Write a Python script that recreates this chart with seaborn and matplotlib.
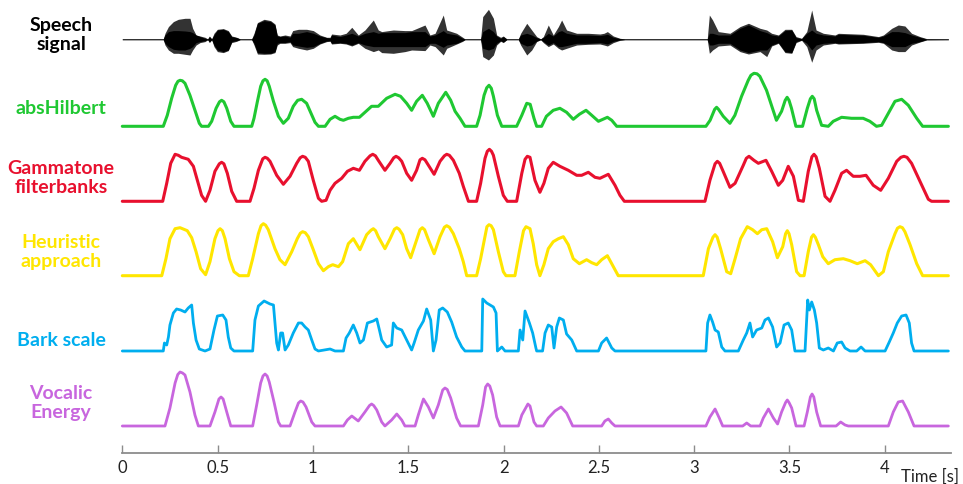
import matplotlib
matplotlib.use("Agg")
import matplotlib.pyplot as plt
import seaborn as sns
import pandas as pd

# ---------------- data (time in s, amplitude in arbitrary units) ----------------
SPEECH = [  # (t, outer_top, core_top, core_bottom, outer_bottom)
    (0.000, 0.4, 0.4, -0.4, -0.4), (0.215, 0.4, 0.4, -0.4, -0.4), (0.224, 6, 4.3, -4, -5.7),
    (0.242, 12.7, 7.7, -7.3, -10.7), (0.268, 17.7, 8.7, -10, -14), (0.294, 20, 8.7, -10.7, -14),
    (0.329, 21, 8.3, -10.7, -15), (0.355, 21, 7.7, -9, -15.7), (0.369, 11, 6.7, -7.3, -10.7),
    (0.387, 4.3, 4.3, -3.3, -5.7), (0.408, 3.3, 2.7, -2.3, -3.3), (0.434, 2, 1, -1.3, -2.3),
    (0.448, 0.4, 0.4, -0.4, -0.4), (0.457, 3.3, 2.7, -2.7, -3.3), (0.469, 0.4, 0.4, -0.4, -0.4),
    (0.481, 6, 4.3, -5.7, -7.3), (0.499, 10, 9.3, -10.7, -12.3), (0.530, 10.7, 10, -12.3, -13.3),
    (0.556, 8.7, 7.7, -10.7, -11.3), (0.574, 3.3, 2.7, -2.3, -3.3), (0.600, 2, 1.7, -1.3, -2),
    (0.618, 0.4, 0.4, -0.4, -0.4), (0.679, 0.4, 0.4, -0.4, -0.4), (0.691, 6, 4.3, -4, -5.7),
    (0.709, 16.7, 16, -13.3, -14.7), (0.744, 20, 18.7, -14, -15), (0.778, 18.7, 17.7, -14, -14.7),
    (0.801, 15.3, 14.3, -12.3, -13.3), (0.813, 4.3, 3.3, -4, -5.7), (0.827, 3.3, 2.7, -3.3, -4),
    (0.854, 4.3, 3.3, -3.3, -4), (0.880, 3.3, 2, -2.3, -3.3), (0.894, 8.7, 6, -5.7, -7.3),
    (0.924, 10, 6, -6.7, -9), (0.967, 10, 7.7, -8, -10.7), (1.002, 8.7, 6, -7.3, -9),
    (1.037, 4.3, 3.3, -4, -4.7), (1.072, 2, 1.7, -1.7, -2.3), (1.090, 2, 1.3, -1.3, -2),
    (1.098, 5.3, 4.3, -4, -4.7), (1.142, 4.3, 2.7, -3.3, -4), (1.174, 6, 4.3, -4, -4.7),
    (1.204, 12, 6, -5.7, -6.7), (1.238, 4.3, 3.3, -3.3, -4), (1.273, 9.3, 6, -5.7, -9),
    (1.317, 19.3, 7.7, -7.3, -12.3), (1.343, 9.3, 6, -7.3, -10.7), (1.361, 7.7, 6.7, -7.3, -13.3),
    (1.422, 9.3, 6.7, -7.3, -14), (1.483, 8.7, 6.7, -7.3, -12.3), (1.518, 8.7, 7.7, -7.3, -10.7),
    (1.588, 14.3, 7.7, -7.3, -11.3), (1.614, 4.3, 3.3, -4, -5.7), (1.641, 6, 4.3, -4, -7.3),
    (1.684, 24.3, 8.7, -8, -15.7), (1.702, 9.3, 6, -5.7, -9), (1.754, 6, 4.3, -4, -4.7),
    (1.786, 2, 1, -1.3, -2), (1.798, 0.4, 0.4, -0.4, -0.4), (1.880, 0.4, 0.4, -0.4, -0.4),
    (1.891, 22.7, 7.7, -9, -17.3), (1.921, 30, 11, -10.7, -20.7), (1.947, 21, 7.7, -9, -15.7),
    (1.964, 4.3, 3.3, -4, -5.7), (1.985, 2, 1, -1.3, -2), (1.999, 3.3, 2.7, -2.7, -3.3),
    (2.017, 0.4, 0.4, -0.4, -0.4), (2.078, 0.4, 0.4, -0.4, -0.4), (2.090, 6, 4.3, -4, -5.7),
    (2.122, 16, 6, -6.7, -15.7), (2.148, 9.3, 4.3, -5.7, -10.7), (2.174, 2.7, 1.7, -1.7, -2.3),
    (2.195, 0.4, 0.4, -0.4, -0.4), (2.209, 2.7, 2, -2.3, -3.3), (2.235, 14.3, 6, -5.7, -7.3),
    (2.261, 4.3, 3.3, -3.3, -4.7), (2.288, 12.7, 7.7, -7.3, -9), (2.305, 19.3, 8.7, -7.3, -10.7),
    (2.331, 9.3, 6, -6.3, -9), (2.384, 6, 4.3, -4, -5.7), (2.445, 6, 4.3, -4, -5),
    (2.506, 5.3, 3.7, -3.3, -4.7), (2.527, 6, 4.3, -4, -5.7), (2.545, 7.7, 5, -4.7, -6.7),
    (2.576, 3.3, 2, -2, -3.3), (2.611, 1, 0.7, -0.7, -1), (2.637, 0.4, 0.4, -0.4, -0.4),
    (3.069, 0.4, 0.4, -0.4, -0.4), (3.080, 24.3, 6, -5.7, -14), (3.097, 19.3, 6, -5.7, -10.7),
    (3.127, 7.7, 4.3, -4, -6.7), (3.188, 6, 4.3, -4, -5.7), (3.241, 12.7, 11, -10.7, -12.3),
    (3.285, 16, 14.3, -13.3, -14.7), (3.346, 11, 8.7, -10.7, -12.3), (3.381, 9.3, 6.7, -10.7, -17.3),
    (3.407, 6, 4.3, -5.7, -6.7), (3.442, 4.3, 3.3, -3.3, -4), (3.477, 10, 8.7, -12.3, -13.3),
    (3.512, 10, 9.3, -13.3, -14), (3.535, 2.7, 1.7, -2.3, -3.3), (3.564, 1, 0.7, -0.7, -1),
    (3.591, 7.7, 6, -4, -7.3), (3.617, 29.3, 9.3, -10.7, -23), (3.640, 9.3, 6, -5.7, -10.7),
    (3.678, 6, 4.3, -4, -5.7), (3.739, 4.3, 3.3, -3.3, -4), (3.757, 6, 5, -4, -4.7),
    (3.888, 5, 4, -3.3, -4), (3.967, 2.7, 2, -2.3, -3), (3.993, 4.3, 3.3, -3.3, -4),
    (4.037, 11, 7.7, -7.3, -10.7), (4.071, 14.3, 7.7, -7.3, -12.3), (4.106, 13.3, 6.7, -7.3, -12.3),
    (4.141, 6, 4.3, -4, -5.7), (4.185, 2.7, 2, -2.3, -2.7), (4.220, 0.7, 0.3, -0.3, -0.7),
    (4.334, 0.4, 0.4, -0.4, -0.4),
]

ABS_HILBERT = [
    (0.000, 0), (0.215, 0), (0.236, 11), (0.259, 28), (0.280, 41), (0.292, 45), (0.303, 46), (0.315, 45.5),
    (0.329, 43), (0.355, 31),
    (0.381, 16), (0.404, 3), (0.416, 0), (0.452, 0), (0.469, 5), (0.492, 18), (0.510, 24.5), (0.521, 26),
    (0.533, 24.5), (0.548, 18),
    (0.569, 5), (0.586, 0), (0.679, 0), (0.691, 8), (0.709, 25), (0.726, 40), (0.738, 45.5), (0.749, 47),
    (0.760, 45.5), (0.771, 40),
    (0.793, 25), (0.819, 10), (0.845, 3), (0.871, 8), (0.897, 20), (0.920, 26), (0.941, 27), (0.967, 23),
    (0.990, 13), (1.011, 4), (1.029, 0), (1.064, 0), (1.090, 7), (1.116, 10), (1.142, 7), (1.160, 6),
    (1.186, 8), (1.212, 9), (1.244, 9), (1.273, 14), (1.308, 20), (1.343, 20), (1.387, 28), (1.431, 32),
    (1.460, 30), (1.492, 23), (1.518, 16), (1.544, 25), (1.574, 31), (1.600, 23), (1.632, 10), (1.658, 23),
    (1.697, 34), (1.723, 26), (1.746, 15), (1.772, 8), (1.798, 0), (1.859, 0), (1.877, 11), (1.898, 31),
    (1.912, 38.5), (1.924, 41), (1.936, 38), (1.947, 30), (1.968, 11), (1.991, 0), (2.069, 0), (2.096, 11),
    (2.122, 23), (2.140, 22),
    (2.160, 8), (2.174, 0), (2.200, 0), (2.225, 10), (2.261, 16), (2.296, 18), (2.331, 14), (2.366, 7),
    (2.398, 12), (2.433, 16), (2.463, 11), (2.498, 5), (2.545, 9), (2.568, 6), (2.594, 0), (3.062, 0),
    (3.084, 6), (3.108, 17), (3.118, 19), (3.128, 17), (3.153, 10), (3.188, 3), (3.214, 11), (3.249, 30),
    (3.284, 46), (3.298, 51), (3.314, 53), (3.330, 52.5),
    (3.345, 50), (3.380, 36), (3.406, 21), (3.432, 6), (3.459, 15), (3.478, 26), (3.488, 29), (3.498, 26),
    (3.511, 18), (3.534, 0),
    (3.569, 0), (3.594, 18), (3.610, 27.5), (3.620, 30), (3.630, 27.5), (3.643, 16), (3.669, 1), (3.704, 0),
    (3.730, 5), (3.774, 9),
    (3.826, 8), (3.887, 8), (3.922, 5), (3.957, 0), (3.984, 1), (4.019, 13), (4.054, 25), (4.089, 27),
    (4.124, 21), (4.168, 8), (4.199, 0), (4.334, 0),
]

GAMMATONE = [
    (0.000, 0), (0.212, 0), (0.233, 18), (0.254, 38), (0.277, 47), (0.294, 46), (0.311, 44), (0.346, 42),
    (0.373, 35), (0.394, 21), (0.416, 6), (0.437, 0), (0.460, 11), (0.486, 30), (0.509, 37.5), (0.521, 39),
    (0.533, 37.5), (0.551, 28),
    (0.574, 10), (0.600, 0), (0.670, 0), (0.691, 13), (0.714, 31), (0.737, 42.5), (0.749, 44), (0.761, 43),
    (0.775, 40), (0.810, 26),
    (0.845, 17), (0.880, 25), (0.915, 38), (0.933, 43.5), (0.946, 45), (0.960, 44), (0.976, 40), (1.002, 21),
    (1.029, 3), (1.046, 0),
    (1.069, 1), (1.090, 11), (1.116, 18), (1.151, 23), (1.181, 30), (1.212, 33), (1.244, 31), (1.273, 40),
    (1.300, 45.5), (1.314, 47), (1.328, 45.5), (1.343, 41), (1.378, 31), (1.405, 38), (1.424, 43.5),
    (1.436, 45), (1.450, 43.5), (1.466, 40), (1.492, 28), (1.518, 21),
    (1.544, 31), (1.562, 41.5), (1.574, 43), (1.588, 41.5), (1.606, 36), (1.636, 27), (1.667, 40),
    (1.690, 45.5), (1.702, 47), (1.716, 46), (1.737, 41), (1.768, 28),
    (1.789, 15), (1.816, 0), (1.859, 0), (1.880, 18), (1.903, 43), (1.915, 50), (1.926, 52), (1.937, 50),
    (1.947, 46), (1.973, 25),
    (1.999, 6), (2.020, 0), (2.069, 0), (2.096, 28), (2.113, 42), (2.125, 45), (2.139, 44), (2.165, 21),
    (2.191, 9),
    (2.212, 18), (2.235, 33), (2.261, 39), (2.296, 35), (2.340, 31), (2.384, 26), (2.410, 26), (2.445, 29),
    (2.480, 24), (2.506, 23), (2.550, 27), (2.585, 16), (2.611, 6), (2.634, 0), (3.057, 0), (3.083, 21),
    (3.110, 37.5), (3.122, 40), (3.134, 38), (3.150, 31), (3.188, 14), (3.215, 18), (3.258, 36),
    (3.274, 43), (3.288, 45), (3.314, 41), (3.337, 38),
    (3.377, 41), (3.407, 30), (3.442, 16), (3.465, 21), (3.494, 35), (3.521, 25), (3.547, 1), (3.573, 0),
    (3.599, 30), (3.618, 44.5), (3.629, 47), (3.640, 44.5), (3.657, 33), (3.687, 5), (3.713, 0), (3.739, 11),
    (3.774, 28), (3.800, 31),
    (3.835, 25), (3.870, 25), (3.902, 26), (3.940, 16), (3.979, 11), (4.019, 23), (4.063, 40),
    (4.085, 44), (4.101, 45), (4.117, 44),
    (4.141, 38), (4.185, 20), (4.229, 2), (4.246, 0), (4.334, 0),
]

HEURISTIC = [
    (0.000, 0), (0.207, 0), (0.229, 17), (0.250, 37), (0.277, 47), (0.303, 48), (0.341, 45), (0.364, 38),
    (0.387, 24), (0.411, 7), (0.437, 1), (0.460, 14), (0.486, 37), (0.502, 45), (0.513, 47), (0.525, 45),
    (0.539, 37), (0.562, 17),
    (0.586, 4), (0.614, 0), (0.661, 0), (0.684, 17), (0.714, 42), (0.728, 50), (0.740, 52), (0.752, 50.5),
    (0.766, 46), (0.801, 27),
    (0.827, 16), (0.854, 11), (0.889, 24), (0.918, 37), (0.934, 42.5), (0.946, 44), (0.960, 43),
    (0.976, 39), (1.002, 26), (1.029, 12),
    (1.055, 5), (1.081, 9), (1.104, 11), (1.134, 9), (1.156, 14), (1.186, 32), (1.212, 37), (1.247, 26),
    (1.282, 41), (1.305, 45.5), (1.317, 47), (1.329, 45), (1.343, 39), (1.378, 27), (1.405, 37),
    (1.428, 46.5), (1.440, 48), (1.452, 46.5), (1.471, 41), (1.492, 27),
    (1.513, 18), (1.541, 34), (1.562, 46), (1.574, 48), (1.586, 46), (1.606, 36), (1.636, 22), (1.667, 39),
    (1.690, 48.5), (1.702, 50), (1.716, 48.5), (1.737, 42),
    (1.768, 27), (1.789, 14), (1.807, 0), (1.859, 0), (1.880, 17), (1.903, 39), (1.913, 49), (1.924, 51),
    (1.935, 50), (1.947, 46),
    (1.973, 24), (1.999, 4), (2.013, 0), (2.060, 0), (2.083, 24), (2.105, 45), (2.118, 49), (2.139, 47),
    (2.156, 32),
    (2.174, 11), (2.191, 0), (2.212, 11), (2.235, 27), (2.261, 34), (2.288, 37), (2.314, 39), (2.340, 31),
    (2.366, 17), (2.398, 12), (2.436, 16), (2.463, 13), (2.489, 11), (2.515, 16), (2.545, 20), (2.576, 9),
    (2.602, 0), (3.048, 0), (3.075, 27), (3.099, 38.5), (3.110, 41), (3.121, 38.5), (3.139, 27),
    (3.171, 4), (3.192, 2), (3.215, 17),
    (3.244, 37), (3.279, 49), (3.307, 46), (3.332, 42), (3.355, 46), (3.381, 47), (3.412, 34), (3.437, 18),
    (3.465, 29), (3.480, 42), (3.489, 45), (3.498, 42), (3.512, 31), (3.538, 4), (3.556, 0), (3.577, 0),
    (3.599, 24), (3.616, 38.5), (3.626, 41),
    (3.636, 38.5), (3.652, 31), (3.675, 19), (3.704, 12), (3.739, 16), (3.783, 17), (3.818, 15),
    (3.856, 12), (3.897, 15),
    (3.926, 11), (3.967, 0), (3.993, 4), (4.019, 24), (4.054, 42), (4.067, 47.5), (4.080, 49),
    (4.093, 48), (4.106, 44), (4.133, 31),
    (4.168, 12), (4.199, 0), (4.334, 0),
]

BARK = [
    (0.000, 0), (0.215, 0), (0.221, 8), (0.233, 6), (0.242, 14), (0.250, 26), (0.268, 38), (0.285, 42),
    (0.306, 41), (0.329, 39), (0.346, 43), (0.364, 46), (0.373, 28), (0.387, 11), (0.404, 2), (0.434, 0),
    (0.460, 2), (0.481, 21), (0.499, 35), (0.527, 36), (0.544, 31), (0.556, 14), (0.569, 3), (0.586, 0),
    (0.684, 0), (0.696, 31), (0.714, 45), (0.744, 50), (0.775, 47), (0.793, 46), (0.801, 28), (0.810, 8),
    (0.819, 1), (0.831, 18), (0.841, 18), (0.854, 1), (0.871, 6), (0.897, 18), (0.924, 28), (0.941, 28),
    (0.959, 24), (0.976, 21), (0.994, 11), (1.011, 2), (1.029, 0), (1.090, 2), (1.116, 0), (1.160, 0),
    (1.174, 13), (1.191, 18), (1.212, 26), (1.230, 18), (1.247, 8), (1.265, 11), (1.286, 28), (1.317, 30),
    (1.335, 32), (1.349, 21), (1.361, 11), (1.387, 4), (1.413, 6), (1.422, 28), (1.440, 23), (1.466, 21),
    (1.492, 11), (1.518, 1), (1.531, 8), (1.553, 21), (1.580, 30), (1.597, 42), (1.618, 31), (1.632, 0),
    (1.646, 11), (1.663, 41), (1.681, 43), (1.705, 39), (1.728, 29), (1.754, 14), (1.781, 4), (1.798, 0),
    (1.886, 0), (1.891, 52), (1.912, 48), (1.947, 44), (1.961, 38), (1.968, 0), (1.991, 4), (2.008, 0),
    (2.078, 0), (2.087, 21), (2.101, 11), (2.113, 40), (2.136, 28), (2.153, 18), (2.170, 3), (2.174, 0),
    (2.205, 0), (2.218, 18), (2.235, 26), (2.253, 24), (2.265, 3), (2.279, 24), (2.293, 33), (2.314, 31),
    (2.331, 17), (2.358, 11), (2.384, 0), (2.498, 0), (2.515, 8), (2.541, 13), (2.568, 3), (2.585, 0),
    (3.062, 0), (3.071, 28), (3.083, 36), (3.097, 29), (3.110, 21), (3.127, 19), (3.145, 4), (3.162, 0),
    (3.232, 0), (3.258, 11), (3.276, 18), (3.293, 28), (3.307, 14), (3.328, 21), (3.355, 23), (3.372, 31),
    (3.390, 33), (3.412, 24), (3.433, 4), (3.451, 8), (3.472, 26), (3.494, 28), (3.512, 21), (3.529, 0),
    (3.582, 0), (3.596, 51), (3.605, 41), (3.617, 49), (3.631, 41), (3.643, 28), (3.657, 3), (3.678, 1),
    (3.704, 3), (3.731, 0), (3.751, 8), (3.774, 9), (3.792, 3), (3.818, 0), (3.853, 0), (3.876, 4),
    (3.897, 0), (4.002, 0), (4.024, 9), (4.045, 18), (4.066, 28), (4.089, 35), (4.112, 36), (4.129, 28),
    (4.141, 8), (4.154, 0), (4.334, 0),
]

VOCALIC = [
    (0.000, 0), (0.224, 0), (0.250, 18), (0.277, 43), (0.291, 51.5), (0.303, 54), (0.316, 53), (0.329, 51),
    (0.355, 34), (0.381, 11),
    (0.399, 0), (0.460, 0), (0.486, 14), (0.507, 27), (0.518, 29), (0.529, 27), (0.548, 14), (0.569, 0),
    (0.684, 0), (0.705, 21),
    (0.726, 43), (0.738, 50), (0.749, 52), (0.760, 50), (0.771, 44), (0.796, 24), (0.819, 4), (0.831, 0),
    (0.880, 0), (0.906, 14),
    (0.924, 23), (0.936, 25), (0.948, 24), (0.964, 19), (0.994, 4), (1.011, 0), (1.160, 0), (1.181, 6),
    (1.204, 10), (1.238, 5),
    (1.273, 14), (1.297, 20.5), (1.308, 22), (1.319, 20.5), (1.335, 16), (1.361, 4), (1.378, 0),
    (1.413, 6), (1.440, 12), (1.466, 6),
    (1.483, 0), (1.536, 0), (1.553, 11), (1.580, 27), (1.606, 19), (1.632, 8), (1.658, 21), (1.681, 36),
    (1.693, 38), (1.705, 36.5),
    (1.723, 28), (1.754, 8), (1.775, 0), (1.868, 0), (1.891, 21), (1.906, 39), (1.917, 42), (1.928, 40),
    (1.943, 31), (1.964, 9),
    (1.982, 0), (2.078, 0), (2.096, 11), (2.128, 22), (2.139, 20), (2.160, 4), (2.174, 0), (2.209, 0),
    (2.235, 8), (2.270, 15), (2.302, 19), (2.331, 13), (2.363, 0), (2.515, 0), (2.532, 5), (2.550, 7),
    (2.568, 3), (2.585, 0), (3.062, 0), (3.083, 9), (3.110, 17), (3.132, 8), (3.150, 0), (3.255, 0),
    (3.276, 3), (3.297, 0), (3.346, 0), (3.363, 8), (3.390, 17), (3.416, 8), (3.438, 2), (3.459, 14),
    (3.480, 23.5), (3.489, 26), (3.498, 23.5), (3.512, 18), (3.535, 0), (3.577, 0), (3.594, 14),
    (3.610, 29), (3.619, 32), (3.628, 29), (3.643, 14), (3.664, 0),
    (3.745, 0), (3.769, 4), (3.792, 1), (3.809, 0), (4.019, 0), (4.045, 14), (4.071, 24), (4.094, 25),
    (4.124, 14), (4.154, 0), (4.334, 0),
]

ROW_LABELS = ["Speech\nsignal", "absHilbert", "Gammatone\nfilterbanks", "Heuristic\napproach",
              "Bark scale", "Vocalic\nEnergy"]
TICKS = [0, 0.5, 1, 1.5, 2, 2.5, 3, 3.5, 4]
TICK_LABELS = ["0", "0.5", "1", "1.5", "2", "2.5", "3", "3.5", "4"]
X_LABEL = "Time [s]"

# ---------------- style / layout ----------------
sns.set_theme(style="white")
plt.rcParams["font.family"] = ["Lato", "DejaVu Sans"]

W, H = 963, 484
fig = plt.figure(figsize=(W / 100, H / 100), dpi=100)
X0, X1 = 122.3, 950.7
PX_PER_S = 190.6
T_MAX = (X1 - X0) / PX_PER_S


def row_axes(base_px, below, above):
    ax = fig.add_axes([X0 / W, (H - (base_px + below)) / H, (X1 - X0) / W, (below + above) / H])
    ax.set_xlim(0, T_MAX)
    ax.set_ylim(-below, above)
    ax.axis("off")
    return ax


# speech waveform
sp = pd.DataFrame(SPEECH, columns=["t", "ot", "ct", "cb", "ob"])
ax_s = row_axes(39.3, 26, 34)
ax_s.fill_between(sp["t"], sp["ob"], sp["ot"], color="#333333", linewidth=0)
ax_s.fill_between(sp["t"], sp["cb"], sp["ct"], color="#000000", linewidth=0)

rows = [
    (ABS_HILBERT, 126.3, "#1FC832", 2.2),
    (GAMMATONE, 201.3, "#E8102E", 2.2),
    (HEURISTIC, 275.7, "#FFE600", 2.2),
    (BARK, 351.0, "#00AEEF", 2.0),
    (VOCALIC, 426.0, "#C866DE", 2.0),
]
for data, base, color, lw in rows:
    df = pd.DataFrame(data, columns=["t", "a"])
    ax = row_axes(base, 5, 60)
    sns.lineplot(data=df, x="t", y="a", ax=ax, color=color, linewidth=lw,
                 estimator=None, sort=False, solid_joinstyle="round", solid_capstyle="round",
                 clip_on=False)
    ax.axis("off")

# row labels
label_pos = [35, 109, 178, 252, 341, 403]
label_col = ["#000000", "#1FC832", "#E8102E", "#FFE600", "#00AEEF", "#C866DE"]
for txt, y, c in zip(ROW_LABELS, label_pos, label_col):
    fig.text(61 / W, 1 - y / H, txt, ha="center", va="center", fontsize=14,
             fontweight="bold", color=c, linespacing=1.15)

# time axis
axb = fig.add_axes([X0 / W, (H - 452.7) / H, (X1 - X0) / W, 30 / H])
axb.set_xlim(0, T_MAX)
axb.set_ylim(0, 1)
axb.patch.set_visible(False)
for s in ["left", "right", "top"]:
    axb.spines[s].set_visible(False)
axb.spines["bottom"].set_color("#8c8c8c")
axb.spines["bottom"].set_linewidth(1.3)
axb.set_xticks(TICKS)
axb.set_xticklabels(TICK_LABELS)
axb.set_yticks([])
axb.tick_params(axis="x", direction="in", length=6, width=1, color="#8c8c8c",
                pad=5, labelsize=12, labelcolor="#222222", bottom=True)
fig.text(959 / W, 1 - 477 / H, X_LABEL, ha="right", va="center", fontsize=12, color="#222222")

fig.savefig("out.png", dpi=100)
